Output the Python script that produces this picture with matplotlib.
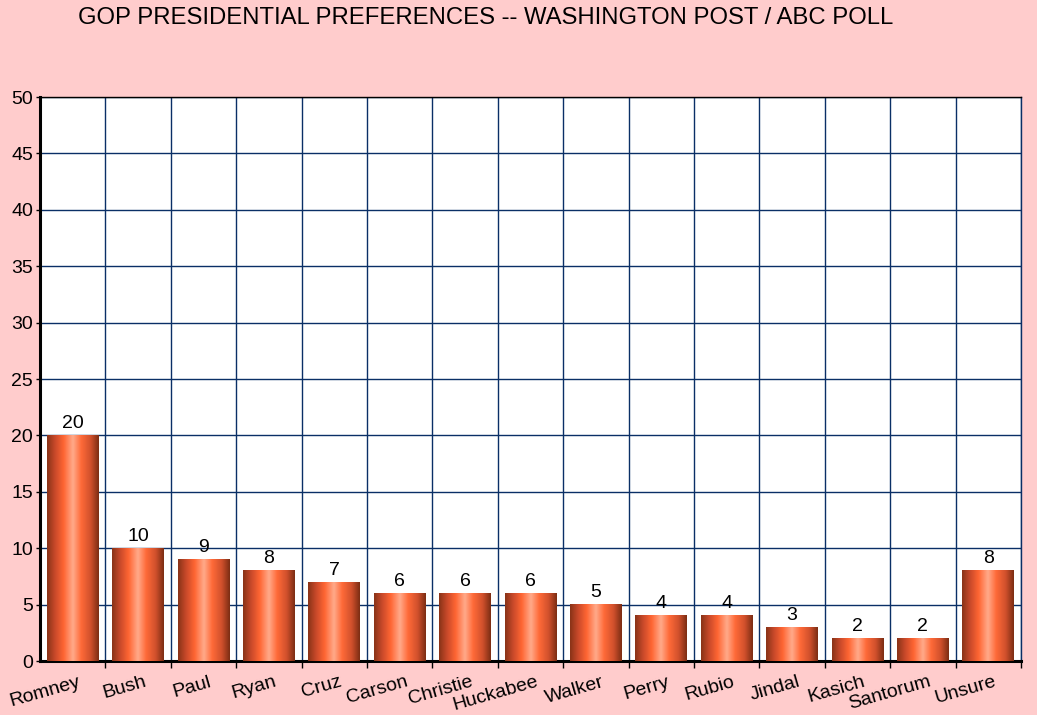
import numpy as np
import matplotlib
matplotlib.use("Agg")
import matplotlib.pyplot as plt
from matplotlib.colors import LinearSegmentedColormap

candidates = ["Romney", "Bush", "Paul", "Ryan", "Cruz", "Carson", "Christie",
              "Huckabee", "Walker", "Perry", "Rubio", "Jindal", "Kasich",
              "Santorum", "Unsure"]
percent = [20, 10, 9, 8, 7, 6, 6, 6, 5, 4, 4, 3, 2, 2, 8]
y_ticks = [0, 5, 10, 15, 20, 25, 30, 35, 40, 45, 50]

plt.rcParams["font.family"] = ["Liberation Sans", "DejaVu Sans"]

BG = "#ffcccc"
GRID = "#0a2f66"

# cylinder-ish shading across each bar
shade = LinearSegmentedColormap.from_list("bar", [
    (0.00, "#8a3418"), (0.15, "#c9492a"), (0.32, "#ff6633"),
    (0.50, "#ffab8c"), (0.66, "#ff6a38"), (0.85, "#d0502c"), (1.00, "#7e2e14")])
grad = np.linspace(0, 1, 64).reshape(1, -1)

fig = plt.figure(figsize=(10.37, 7.15), dpi=100, facecolor=BG)
ax = fig.add_axes([40 / 1037, 54 / 715, 981 / 1037, 564 / 715])
ax.set_facecolor("white")

n = len(candidates)
width = 0.79
for i, v in enumerate(percent):
    ax.imshow(grad, cmap=shade, aspect="auto", interpolation="bicubic",
              extent=(i - width / 2, i + width / 2, 0, v), zorder=3)
    ax.text(i, v + 0.3, str(v), ha="center", va="bottom", fontsize=14, zorder=4)

ax.set_xlim(-0.5, n - 0.5)
ax.set_ylim(0, 50)
ax.set_yticks(y_ticks)
ax.tick_params(axis="y", labelsize=14, length=3, width=1, pad=2)

# category labels near bar centres, tick marks/grid at boundaries
ax.set_xticks(np.arange(n) + 0.08)
ax.set_xticklabels(candidates, rotation=16, ha="right", rotation_mode="anchor",
                   fontsize=14)
ax.tick_params(axis="x", which="major", length=0, pad=9)
ax.set_xticks(np.arange(n) + 0.5, minor=True)
ax.tick_params(axis="x", which="minor", length=5, width=1, direction="out")

ax.grid(True, which="minor", axis="x", color=GRID, lw=1, zorder=1)
ax.grid(True, which="major", axis="y", color=GRID, lw=1, zorder=1)
ax.set_axisbelow(True)

for side in ("left", "bottom"):
    ax.spines[side].set_linewidth(2.2)
    ax.spines[side].set_color("black")
ax.spines["top"].set_color("black")
ax.spines["top"].set_linewidth(1)
ax.spines["right"].set_color(GRID)
ax.spines["right"].set_linewidth(1)

fig.text(78 / 1037, 1 - 18 / 715, "GOP PRESIDENTIAL PREFERENCES -- WASHINGTON POST / ABC POLL",
         ha="left", va="center", fontsize=17.2)

fig.savefig("out.png", dpi=100, facecolor=BG)
